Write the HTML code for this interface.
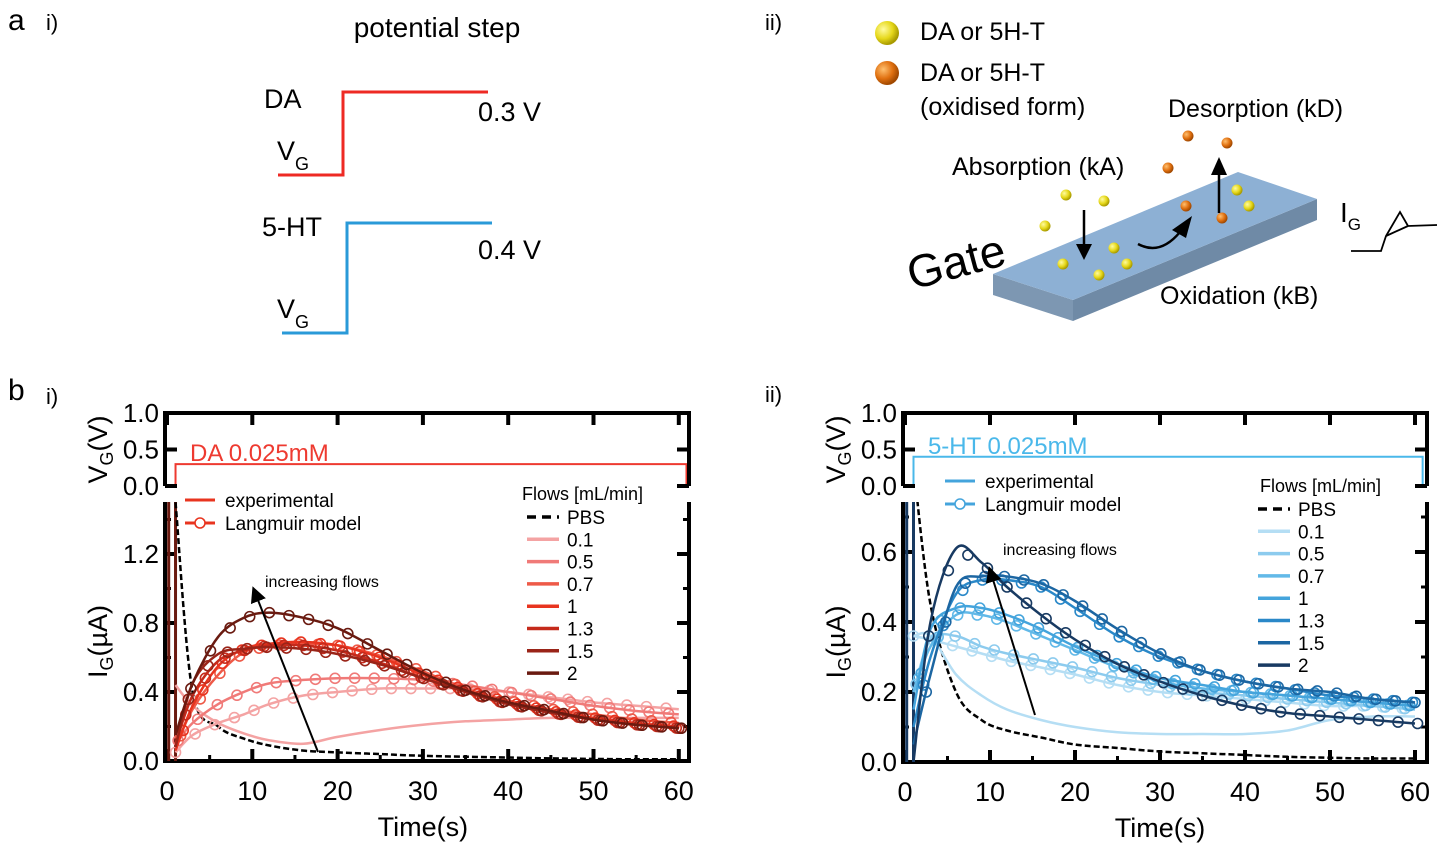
<!DOCTYPE html>
<html><head><meta charset="utf-8"><style>
html,body{margin:0;padding:0;background:#fff;}
svg{display:block;font-family:"Liberation Sans",Arial,sans-serif;}
</style></head><body>
<svg id="fig" width="1440" height="847" viewBox="0 0 1440 847" xmlns="http://www.w3.org/2000/svg">
<defs>
<radialGradient id="gy" cx="35%" cy="35%" r="65%"><stop offset="0" stop-color="#fffba0"/><stop offset="0.6" stop-color="#e6d81a"/><stop offset="1" stop-color="#a89a00"/></radialGradient>
<radialGradient id="go" cx="35%" cy="35%" r="65%"><stop offset="0" stop-color="#ffc070"/><stop offset="0.6" stop-color="#e07010"/><stop offset="1" stop-color="#a04800"/></radialGradient>
<marker id="ah" markerWidth="8" markerHeight="8" refX="6" refY="4" orient="auto"><path d="M0,0 L8,4 L0,8 Z" fill="#000"/></marker>
</defs>
<g>
<text x="8" y="30" font-size="30">a</text>
<text x="46" y="30" font-size="22">i)</text>
<text x="437" y="37" font-size="28" text-anchor="middle">potential step</text>
<text x="264" y="108" font-size="27">DA</text>
<polyline points="278,175 343,175 343,92 488,92" fill="none" stroke="#ee2a24" stroke-width="3"/>
<text x="478" y="121" font-size="27">0.3 V</text>
<text x="277" y="160" font-size="27">V<tspan font-size="18" dy="10">G</tspan></text>
<text x="262" y="236" font-size="27">5-HT</text>
<polyline points="282,333 347,333 347,223 492,223" fill="none" stroke="#2a9ad8" stroke-width="3"/>
<text x="478" y="259" font-size="27">0.4 V</text>
<text x="277" y="318" font-size="27">V<tspan font-size="18" dy="10">G</tspan></text>
</g>
<g>
<text x="765" y="30" font-size="22">ii)</text>
<circle cx="887" cy="33" r="12" fill="url(#gy)"/>
<circle cx="887" cy="73" r="12" fill="url(#go)"/>
<text x="920" y="40" font-size="25">DA or 5H-T</text>
<text x="920" y="81" font-size="25">DA or 5H-T</text>
<text x="920" y="115" font-size="25">(oxidised form)</text>
<text x="1168" y="117" font-size="25">Desorption (kD)</text>
<text x="952" y="175" font-size="25">Absorption (kA)</text>
<polygon points="1073,300 1317,199 1317,220 1073,321" fill="#6f8aa6"/>
<polygon points="993,274 1073,300 1073,321 993,295" fill="#7d97b2"/>
<polygon points="993,274 1238,172 1317,199 1073,300" fill="#8db0d4"/>
<text x="1160" y="304" font-size="25">Oxidation (kB)</text>
<text x="912" y="290" font-size="46" transform="rotate(-15 912 290)">Gate</text>
<g>
<circle cx="1066" cy="195" r="5.5" fill="url(#gy)"/><circle cx="1104" cy="201" r="5.5" fill="url(#gy)"/><circle cx="1045" cy="226" r="5.5" fill="url(#gy)"/><circle cx="1114" cy="248" r="5.5" fill="url(#gy)"/><circle cx="1063" cy="264" r="5.5" fill="url(#gy)"/><circle cx="1127" cy="264" r="5.5" fill="url(#gy)"/><circle cx="1099" cy="275" r="5.5" fill="url(#gy)"/><circle cx="1237" cy="190" r="5.5" fill="url(#gy)"/><circle cx="1249" cy="206" r="5.5" fill="url(#gy)"/>
</g>
<g>
<circle cx="1188" cy="136" r="5.5" fill="url(#go)"/><circle cx="1227" cy="143" r="5.5" fill="url(#go)"/><circle cx="1168" cy="168" r="5.5" fill="url(#go)"/><circle cx="1186" cy="206" r="5.5" fill="url(#go)"/><circle cx="1222" cy="218" r="5.5" fill="url(#go)"/>
</g>
<line x1="1084" y1="210" x2="1084" y2="248" stroke="#000" stroke-width="2.5"/>
<polygon points="1076,244 1092,244 1084,260" fill="#000"/>
<line x1="1219" y1="213" x2="1219" y2="172" stroke="#000" stroke-width="2.5"/>
<polygon points="1211,175 1227,175 1219,157" fill="#000"/>
<path d="M1138,244 Q1160,256 1180,232" fill="none" stroke="#000" stroke-width="2.5"/>
<polygon points="1172,230 1192,216 1186,238" fill="#000"/>
<text x="1340" y="222" font-size="28">I<tspan font-size="17" dy="8">G</tspan></text>
<path d="M1351,251 L1381,251 L1386,236 L1400,212 L1408,226 L1437,225 M1386,236 L1408,226" fill="none" stroke="#000" stroke-width="1.8"/>
</g>
<text x="8" y="400" font-size="30">b</text>
<text x="46" y="404" font-size="22">i)</text>
<text x="765" y="402" font-size="22">ii)</text>
<g id="chartL"></g>
<g id="chartR"></g>
</svg>
<script>
// shared time grid (s)
const times = [1,3,6,9,12,16,20,25,30,35,40,45,50,55,60];
// DA currents (uA)
const daPBS = [1.5,0.40,0.20,0.13,0.09,0.06,0.05,0.04,0.03,0.025,0.02,0.015,0.012,0.01,0.01];
const daExp01 = [0.44,0.32,0.22,0.16,0.12,0.10,0.14,0.18,0.21,0.23,0.24,0.25,0.25,0.25,0.25];
const da01 = [0.05,0.15,0.22,0.27,0.33,0.38,0.40,0.42,0.42,0.42,0.40,0.37,0.34,0.32,0.30];
const da05 = [0.10,0.22,0.33,0.40,0.45,0.47,0.48,0.48,0.47,0.44,0.40,0.36,0.32,0.29,0.27];
const da07 = [0.08,0.30,0.50,0.63,0.67,0.68,0.67,0.61,0.52,0.42,0.35,0.30,0.27,0.24,0.22];
const da1  = [0.06,0.32,0.55,0.65,0.68,0.69,0.67,0.60,0.50,0.41,0.34,0.29,0.25,0.22,0.20];
const da13 = [0.10,0.38,0.58,0.64,0.67,0.67,0.64,0.57,0.48,0.40,0.33,0.28,0.24,0.21,0.19];
const da15 = [0.08,0.45,0.62,0.65,0.66,0.65,0.62,0.56,0.48,0.40,0.33,0.28,0.24,0.21,0.19];
const da2  = [0.15,0.45,0.72,0.83,0.86,0.83,0.77,0.64,0.51,0.41,0.34,0.29,0.24,0.21,0.19];
// 5-HT currents (uA)
const htPBS = [0.85,0.45,0.20,0.12,0.09,0.07,0.05,0.04,0.03,0.025,0.02,0.015,0.012,0.01,0.01];
const htExp01 = [0.36,0.36,0.25,0.19,0.15,0.12,0.10,0.085,0.08,0.08,0.08,0.09,0.12,0.13,0.13];
const ht01 = [0.36,0.35,0.33,0.31,0.29,0.27,0.25,0.22,0.20,0.19,0.18,0.17,0.16,0.16,0.15];
const ht05 = [0.20,0.35,0.36,0.33,0.31,0.29,0.27,0.24,0.22,0.20,0.19,0.18,0.17,0.16,0.15];
const ht07 = [0.20,0.33,0.42,0.42,0.40,0.36,0.32,0.27,0.23,0.21,0.20,0.19,0.18,0.17,0.16];
const ht1  = [0.15,0.38,0.44,0.44,0.42,0.38,0.33,0.28,0.24,0.22,0.20,0.19,0.18,0.17,0.16];
const ht13 = [0.10,0.30,0.48,0.52,0.52,0.50,0.44,0.36,0.30,0.26,0.23,0.21,0.19,0.18,0.17];
const ht15 = [0.05,0.25,0.50,0.53,0.53,0.51,0.46,0.38,0.31,0.26,0.23,0.21,0.20,0.18,0.17];
const ht2  = [0.00,0.40,0.61,0.57,0.50,0.42,0.35,0.28,0.23,0.19,0.16,0.14,0.13,0.12,0.11];
const flowLabels = ['0.1','0.5','0.7','1','1.3','1.5','2'];
const xTicks = [0,10,20,30,40,50,60];
const vTicks = [0.0,0.5,1.0];
const daYTicks = [0.0,0.4,0.8,1.2];
const htYTicks = [0.0,0.2,0.4,0.6];
const daStep = 0.3, htStep = 0.4;

const NS='http://www.w3.org/2000/svg';
function mk(parent,tag,attrs,text){const e=document.createElementNS(NS,tag);for(const k in attrs)e.setAttribute(k,attrs[k]);if(text!==undefined)e.textContent=text;parent.appendChild(e);return e;}
function smoothPath(pts){let d='M'+pts[0][0].toFixed(1)+','+pts[0][1].toFixed(1);for(let i=0;i<pts.length-1;i++){const p0=pts[i-1]||pts[i],p1=pts[i],p2=pts[i+1],p3=pts[i+2]||p2;const c1=[p1[0]+(p2[0]-p0[0])/6,p1[1]+(p2[1]-p0[1])/6],c2=[p2[0]-(p3[0]-p1[0])/6,p2[1]-(p3[1]-p1[1])/6];d+=' C'+c1[0].toFixed(1)+','+c1[1].toFixed(1)+' '+c2[0].toFixed(1)+','+c2[1].toFixed(1)+' '+p2[0].toFixed(1)+','+p2[1].toFixed(1);}return d;}
function interp(arr,t){if(t<=times[0])return arr[0];for(let i=0;i<times.length-1;i++){if(t<=times[i+1]){const f=(t-times[i])/(times[i+1]-times[i]);return arr[i]+f*(arr[i+1]-arr[i]);}}return arr[arr.length-1];}

function drawChart(cfg){
  const g=document.getElementById(cfg.id);
  const X=t=>cfg.x0+t*cfg.xs;
  const Y=v=>cfg.y0-v*cfg.ys;
  const VY=v=>cfg.vy0-v*cfg.vys;
  const L=cfg.x0-2,R=cfg.xR,B=cfg.y0,T=cfg.yTop;
  const cp=mk(g,'clipPath',{id:cfg.id+'clip'});mk(cp,'rect',{x:L,y:T,width:R-L,height:B-T});
  const step=mk(g,'polyline',{points:`${X(0)},${VY(0)} ${X(1)},${VY(0)} ${X(1)},${VY(cfg.step)} ${X(60.9)},${VY(cfg.step)} ${X(60.9)},${VY(0)}`,fill:'none',stroke:cfg.stepColor,'stroke-width':2});
  
  
  const tt=mk(g,'text',{x:X(2.7),y:VY(cfg.step)-3,'font-size':24,fill:cfg.stepColor},cfg.title);
  
  
  const vbox=mk(g,'path',{d:`M${L},${VY(0)} L${L},${VY(1)} L${R},${VY(1)} L${R},${VY(0)}`,fill:'none',stroke:'#000','stroke-width':4});
  
  
  vTicks.forEach(v=>{
    mk(g,'line',{x1:L,y1:VY(v),x2:L+12,y2:VY(v),stroke:'#000','stroke-width':4});
    mk(g,'line',{x1:R,y1:VY(v),x2:R-12,y2:VY(v),stroke:'#000','stroke-width':4});
    const lb=mk(g,'text',{x:L-6,y:VY(v)+9,'font-size':26,'text-anchor':'end'},v.toFixed(1));
    
    
  });
  xTicks.forEach(t=>{mk(g,'line',{x1:X(t),y1:VY(1),x2:X(t),y2:VY(1)+12,stroke:'#000','stroke-width':4});});
  const vt=mk(g,'text',{x:0,y:0,'font-size':27,transform:`translate(${L-58},${VY(0.5)}) rotate(-90)`,'text-anchor':'middle'});
  
  
  vt.innerHTML='V<tspan font-size="18" dy="6">G</tspan><tspan dy="-6">(V)</tspan>';
  const fr=mk(g,'path',{d:`M${L},${T} L${L},${B} L${R},${B} L${R},${T}`,fill:'none',stroke:'#000','stroke-width':4});
  
  
  xTicks.forEach(t=>{
    mk(g,'line',{x1:X(t),y1:B,x2:X(t),y2:B-12,stroke:'#000','stroke-width':4});
    if(t<60)mk(g,'line',{x1:X(t+5),y1:B,x2:X(t+5),y2:B-6,stroke:'#000','stroke-width':3});
    const lb=mk(g,'text',{x:X(t),y:B+39,'font-size':27,'text-anchor':'middle'},String(t));
    
    
  });
  cfg.yTicks.forEach((v,i)=>{
    mk(g,'line',{x1:L,y1:Y(v),x2:L+12,y2:Y(v),stroke:'#000','stroke-width':4});
    mk(g,'line',{x1:R,y1:Y(v),x2:R-12,y2:Y(v),stroke:'#000','stroke-width':4});
    const h=v+(cfg.yTicks[1]-cfg.yTicks[0])/2;
    if(Y(h)>T){mk(g,'line',{x1:L,y1:Y(h),x2:L+6,y2:Y(h),stroke:'#000','stroke-width':3});mk(g,'line',{x1:R,y1:Y(h),x2:R-6,y2:Y(h),stroke:'#000','stroke-width':3});}
    const lb=mk(g,'text',{x:L-6,y:Y(v)+9,'font-size':26,'text-anchor':'end'},v.toFixed(1));
    
    
  });
  const yt=mk(g,'text',{x:0,y:0,'font-size':27,transform:`translate(${L-58},${(T+B)/2+10}) rotate(-90)`,'text-anchor':'middle'});
  
  
  yt.innerHTML='I<tspan font-size="18" dy="6">G</tspan><tspan dy="-6">(µA)</tspan>';
  const xt=mk(g,'text',{x:X(30),y:B+75,'font-size':27,'text-anchor':'middle'},'Time(s)');
  
  
  const sg=mk(g,'g',{'clip-path':`url(#${cfg.id}clip)`});
  [0.2,1.0].forEach(t=>{mk(sg,'line',{x1:X(t),y1:B,x2:X(t),y2:T,stroke:cfg.colors[6],'stroke-width':3});});
  const pbs=mk(sg,'path',{d:smoothPath(times.map((t,i)=>[X(t),Y(cfg.pbs[i])])),fill:'none',stroke:'#000','stroke-width':2.5,'stroke-dasharray':'6,3'});
  
  
  const e1=mk(sg,'path',{d:smoothPath(times.map((t,i)=>[X(t),Y(cfg.exp01[i])])),fill:'none',stroke:cfg.colors[0],'stroke-width':2.5});
  
  
  cfg.series.forEach((arr,k)=>{
    const col=cfg.colors[k];
    const p=mk(sg,'path',{d:smoothPath(times.map((t,i)=>[X(t),Y(arr[i])])),fill:'none',stroke:col,'stroke-width':2.5});
    
    
    for(let t=1+k*0.3;t<=60.5;t+=2.3){
      const c=mk(sg,'circle',{cx:X(t),cy:Y(interp(arr,t)),r:5,fill:'none',stroke:col,'stroke-width':1.6});
      
      
    }
  });
  const lg=cfg.legend;
  const le=mk(g,'line',{x1:lg.ex,y1:lg.ey,x2:lg.ex+30,y2:lg.ey,stroke:cfg.colors[3],'stroke-width':3});
  
  
  mk(g,'text',{x:lg.ex+40,y:lg.ey+7,'font-size':19},'experimental');
  mk(g,'line',{x1:lg.ex,y1:lg.ey+23,x2:lg.ex+30,y2:lg.ey+23,stroke:cfg.colors[3],'stroke-width':3});
  mk(g,'circle',{cx:lg.ex+15,cy:lg.ey+23,r:5,fill:'#fff',stroke:cfg.colors[3],'stroke-width':1.6});
  mk(g,'text',{x:lg.ex+40,y:lg.ey+30,'font-size':19},'Langmuir model');
  mk(g,'text',{x:lg.fx,y:lg.fy,'font-size':18},'Flows [mL/min]');
  const names=['PBS'].concat(flowLabels);
  names.forEach((n,i)=>{
    const y=lg.fy+23+i*22.3;
    const ln=mk(g,'line',{x1:lg.lx,y1:y-6,x2:lg.lx+32,y2:y-6,stroke:i===0?'#000':cfg.colors[i-1],'stroke-width':3.5,'stroke-dasharray':i===0?'9,6':'none'});
    
    
    const tx=mk(g,'text',{x:lg.lx+40,y:y+1,'font-size':19},n);
    
    
  });
  const at=mk(g,'text',{x:cfg.arrow.tx,y:cfg.arrow.ty,'font-size':16},'increasing flows');
  
  
  const ar=mk(g,'line',{x1:cfg.arrow.x1,y1:cfg.arrow.y1,x2:cfg.arrow.x2,y2:cfg.arrow.y2,stroke:'#000','stroke-width':2,'marker-end':'url(#ah)'});
  
  
}
drawChart({id:'chartL',x0:167,xs:8.53,xR:689,y0:761,ys:172.5,yTop:502,vy0:486,vys:73,step:daStep,stepColor:'#ee3a30',title:'DA 0.025mM',
  pbs:daPBS,exp01:daExp01,series:[da01,da05,da07,da1,da13,da15,da2],yTicks:daYTicks,
  colors:['#f4a3a3','#f07a78','#ee5a48','#e8341f','#c52a1b','#9a2418','#6a1a10'],
  legend:{ex:185,ey:500,fx:522,fy:500,lx:527},arrow:{tx:265,ty:587,x1:318,y1:752,x2:254,y2:590}});
drawChart({id:'chartR',x0:905,xs:8.5,xR:1427,y0:762,ys:350,yTop:502,vy0:486,vys:73,step:htStep,stepColor:'#4ab8ea',title:'5-HT 0.025mM',
  pbs:htPBS,exp01:htExp01,series:[ht01,ht05,ht07,ht1,ht13,ht15,ht2],yTicks:htYTicks,
  colors:['#b5def4','#8ccbee','#62b9e8','#44a4dc','#2a88c8','#1c66a2','#183a62'],
  legend:{ex:945,ey:481,fx:1260,fy:492,lx:1258},arrow:{tx:1003,ty:555,x1:1035,y1:715,x2:990,y2:570}});
</script>
</body></html>
